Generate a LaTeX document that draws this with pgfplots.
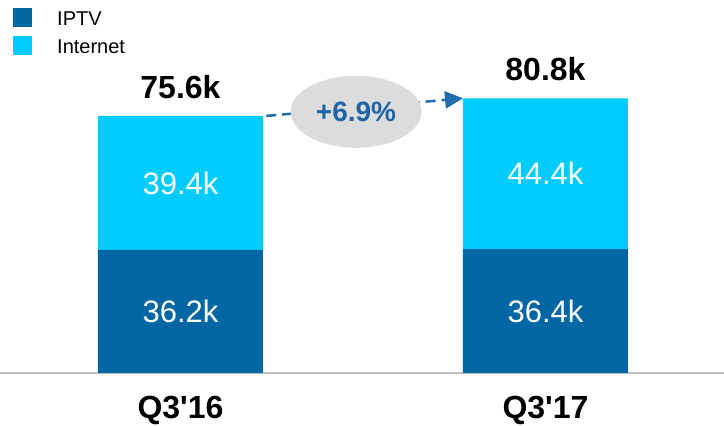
\documentclass[border=0pt]{standalone}
\usepackage{fontspec}
\setmainfont{Liberation Sans}
\usepackage{pgfplots}
\pgfplotsset{compat=1.18}
\usetikzlibrary{arrows.meta,shapes.geometric}
\definecolor{iptv}{HTML}{0066A4}
\definecolor{inet}{HTML}{00CCFF}
\definecolor{arrowc}{HTML}{1F6BAE}
\definecolor{pctc}{HTML}{1E64A6}
\definecolor{ell}{HTML}{DCDCDC}
\definecolor{axisgray}{HTML}{BFBFBF}
\begin{document}
\begin{tikzpicture}
\useasboundingbox (0,0) rectangle (724pt,426pt);
\begin{axis}[
  at={(0pt,53pt)}, anchor=south west,
  scale only axis,
  x=365pt, y=3.4pt,
  xmin=-0.4945, xmax=1.489,
  ymin=0, ymax=109.7,
  ybar stacked, bar width=165pt,
  axis y line=none,
  axis x line=bottom,
  x axis line style={-, draw=axisgray, line width=2.5pt},
  xtick={0,1},
  xticklabels={Q3\textquotesingle 16, Q3\textquotesingle 17},
  major tick length=0pt,
  xticklabel style={font=\fontsize{32}{36}\selectfont\bfseries, anchor=center, yshift=-37pt},
  clip=false,
  legend image code/.code={\fill[#1] (0pt,-8pt) rectangle (19pt,11pt);},
  legend style={at={(axis description cs:0,1)}, anchor=north west,
    xshift=13pt, yshift=-8pt, draw=none, fill=none,
    font=\fontsize{20}{22}\selectfont, row sep=9pt, column sep=25pt,
    inner sep=0pt, nodes={inner sep=0pt}},
  legend cell align=left,
]
\addplot[fill=iptv, draw=none] coordinates {(0,36.2) (1,36.4)};
\addlegendentry{IPTV}
\addplot[fill=inet, draw=none] coordinates {(0,39.4) (1,44.4)};
\addlegendentry{Internet}
\coordinate (a1) at (axis cs:0,18.1);
\coordinate (a2) at (axis cs:0,55.9);
\coordinate (b1) at (axis cs:1,18.2);
\coordinate (b2) at (axis cs:1,58.6);
\coordinate (at) at (axis cs:0,75.6);
\coordinate (bt) at (axis cs:1,80.8);
\coordinate (s) at (axis cs:0.235,75.6);
\coordinate (e) at (axis cs:0.774,80.8);
\coordinate (m) at (axis cs:0.481,78.0);
\end{axis}
\node[white, font=\fontsize{31}{36}\selectfont] at (a1) {36.2k};
\node[white, font=\fontsize{31}{36}\selectfont] at (a2) {39.4k};
\node[white, font=\fontsize{31}{36}\selectfont] at (b1) {36.4k};
\node[white, font=\fontsize{31}{36}\selectfont] at (b2) {44.4k};
\node[font=\fontsize{32}{36}\selectfont\bfseries, yshift=29pt] at (at) {75.6k};
\node[font=\fontsize{32}{36}\selectfont\bfseries, yshift=29pt] at (bt) {80.8k};
\draw[arrowc, line width=2.5pt, dash pattern=on 10pt off 6pt, -{Triangle[length=18pt,width=17pt]}]
  (s) -- (e);
\node[ellipse, fill=ell, minimum width=131pt, minimum height=72pt, inner sep=0pt,
  text=pctc, font=\fontsize{28}{32}\selectfont\bfseries, yshift=-4pt]
  at (m) {+6.9\%};
\end{tikzpicture}
\end{document}
